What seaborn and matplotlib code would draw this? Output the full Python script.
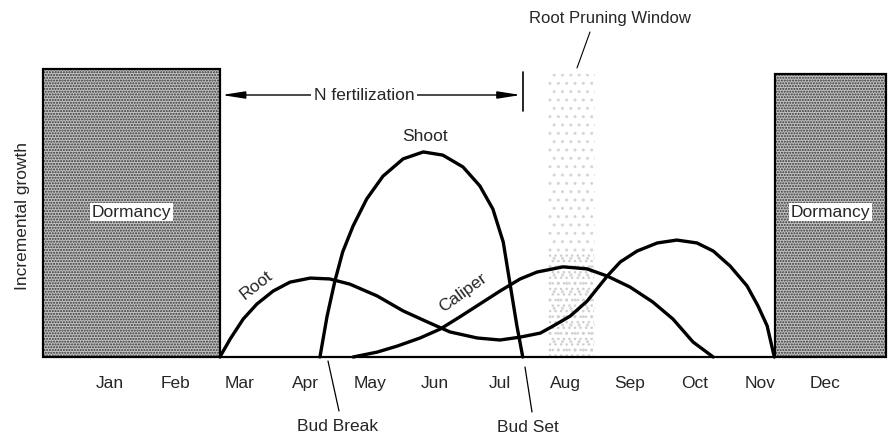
import numpy as np
import pandas as pd
import matplotlib
matplotlib.use("Agg")
import matplotlib.pyplot as plt
import seaborn as sns
from matplotlib.patches import Rectangle

# ---------------- data ----------------
months = ["Jan", "Feb", "Mar", "Apr", "May", "Jun",
          "Jul", "Aug", "Sep", "Oct", "Nov", "Dec"]

# time in months (Jan = 0), incremental growth index (dormancy bar = 100)
root_t = [1.69, 1.85, 2.05, 2.26, 2.51, 2.77, 3.08, 3.38, 3.69, 4.11, 4.51,
          4.88, 5.23, 5.65, 6.0, 6.31, 6.62, 6.82, 7.08, 7.34, 7.65, 7.85,
          8.11, 8.42, 8.72, 9.03, 9.28, 9.54, 9.8, 9.97, 10.11, 10.22]
root_g = [0, 6.3, 13.2, 18.4, 22.9, 26.0, 27.4, 27.1, 25.3, 21.2, 16.0,
          12.2, 8.7, 6.6, 5.9, 6.9, 8.3, 10.8, 14.2, 19.4, 28.1, 33.0,
          36.8, 39.6, 40.6, 39.6, 36.8, 31.6, 24.7, 17.7, 10.8, 0]

shoot_t = [3.23, 3.34, 3.46, 3.58, 3.74, 3.95, 4.2, 4.51, 4.82, 5.12,
           5.43, 5.69, 5.89, 6.05, 6.15, 6.26, 6.35]
shoot_g = [0, 14.2, 26.4, 36.5, 45.5, 54.9, 62.8, 68.8, 71.2, 70.1,
           66.0, 59.4, 51.4, 39.9, 26.0, 10.8, 0]

caliper_t = [3.74, 4.11, 4.42, 4.77, 5.08, 5.38, 5.69, 6.0, 6.31, 6.57,
             6.97, 7.34, 7.65, 8.0, 8.35, 8.66, 8.97, 9.28]
caliper_g = [0, 1.7, 3.8, 6.6, 9.7, 13.9, 18.4, 22.9, 27.1, 29.5,
             31.3, 30.6, 28.1, 24.3, 19.1, 13.2, 5.2, 0]

dormancy_spans = [(-1.03, 1.69, 100.0), (10.23, 11.94, 98.3)]
n_fert_span = (1.72, 6.35)
pruning_window = (6.74, 7.46)

# ---------------- figure ----------------
sns.set_style("white")
plt.rcParams["font.family"] = ["Liberation Sans", "DejaVu Sans"]

W, H = 894, 435
fig = plt.figure(figsize=(W / 100, H / 100), dpi=100)
ax = fig.add_axes([0, 0, 1, 1])

# pixel -> data helpers for annotation placement
def X(px):
    return (px - 110) / 65.0

def Y(py):
    return (358 - py) / 2.88

ax.set_xlim(X(0), X(W))
ax.set_ylim(Y(H), Y(0))
ax.axis("off")

# dormancy bars
for (a, b, h) in dormancy_spans:
    ax.add_patch(Rectangle((a, 0), b - a, h, facecolor="#c2c2c2",
                           edgecolor="#333333", hatch="......", lw=0, zorder=1))
    ax.add_patch(Rectangle((a, 0), b - a, h, facecolor="none",
                           edgecolor="black", lw=1.6, zorder=3))
    ax.text((a + b) / 2, Y(213), "Dormancy", ha="center", va="center",
            fontsize=12.5, zorder=4,
            bbox=dict(facecolor="white", edgecolor="none", pad=1.2))

# root pruning window (stippled)
pa, pb = pruning_window
ax.add_patch(Rectangle((pa, 0), pb - pa, Y(75), facecolor="none",
                       edgecolor="#d6d6d6", hatch="..", lw=0, zorder=1))
ax.add_patch(Rectangle((pa + 0.02, 0), pb - pa - 0.04, Y(255), facecolor="none",
                       edgecolor="#cfcfcf", hatch="...", lw=0, zorder=1))
ax.text(X(610), Y(19), "Root Pruning Window", ha="center", va="center",
        fontsize=12)
ax.plot([X(590), X(577)], [Y(33), Y(69)], color="black", lw=0.8)

# baseline
ax.plot([dormancy_spans[0][1], dormancy_spans[1][0]], [0, 0],
        color="black", lw=1.6, zorder=3)

# growth curves
curves = pd.concat([
    pd.DataFrame({"t": root_t, "g": root_g, "part": "Root"}),
    pd.DataFrame({"t": shoot_t, "g": shoot_g, "part": "Shoot"}),
    pd.DataFrame({"t": caliper_t, "g": caliper_g, "part": "Caliper"}),
])
sns.lineplot(data=curves, x="t", y="g", units="part", estimator=None,
             sort=False, color="black", lw=2.4, ax=ax, zorder=5,
             solid_joinstyle="round", solid_capstyle="round")

ax.text(X(256), Y(285), "Root", rotation=38, ha="center", va="center",
        fontsize=12.5)
ax.text(X(463), Y(293), "Caliper", rotation=36, ha="center", va="center",
        fontsize=12.5)
ax.text(X(425), Y(137), "Shoot", ha="center", va="center", fontsize=12.5)

# N fertilization arrow
fa, fb = n_fert_span
ya = Y(96)
ax.annotate("", xy=(fa, ya), xytext=(fb - 0.03, ya),
            arrowprops=dict(arrowstyle="<|-|>,head_length=1.4,head_width=0.22",
                            color="black", lw=1.0, shrinkA=0, shrinkB=0))
ax.plot([fb, fb], [Y(73), Y(112)], color="black", lw=1.2)
ax.text(X(364), ya, "N fertilization", ha="center", va="center",
        fontsize=12.5,
        bbox=dict(facecolor="white", edgecolor="none", pad=2))

# month labels
for i, m in enumerate(months):
    ax.text(i, Y(384), m, ha="center", va="center", fontsize=12.5)

# bud break / bud set
ax.plot([X(328), X(339)], [Y(362), Y(412)], color="black", lw=0.9)
ax.text(X(338), Y(427), "Bud Break", ha="center", va="center", fontsize=12.5)
ax.plot([X(525), X(532)], [Y(368), Y(413)], color="black", lw=0.9)
ax.text(X(528), Y(428), "Bud Set", ha="center", va="center", fontsize=12.5)

# y label
ax.text(X(23), Y(216), "Incremental growth", rotation=90, ha="center",
        va="center", fontsize=12.5)

fig.savefig("out.png", dpi=100)
